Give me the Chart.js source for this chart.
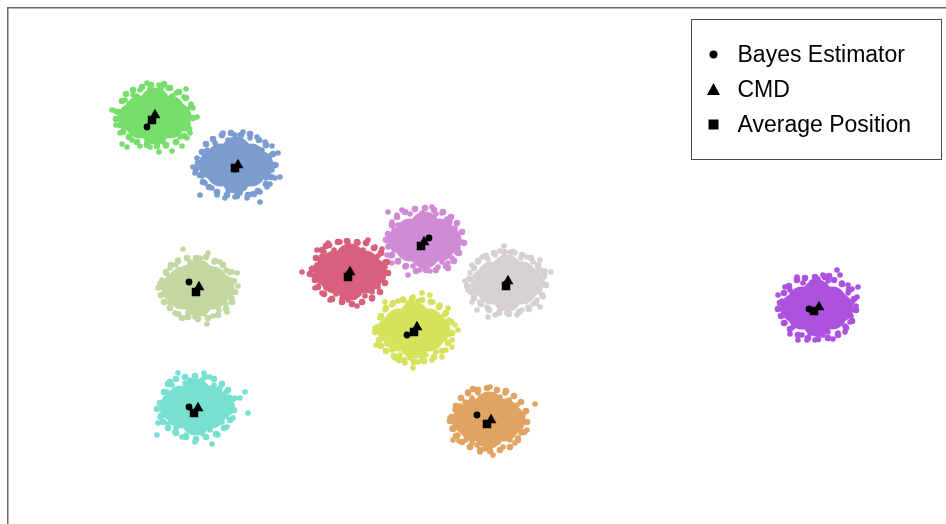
<!DOCTYPE html>
<html>
<head>
<meta charset="utf-8">
<script src="https://cdn.jsdelivr.net/npm/chart.js"></script>
<style>
  html, body { margin: 0; padding: 0; background: #ffffff; overflow: hidden; }
  #wrap { width: 946px; height: 524px; position: relative; }
</style>
</head>
<body>
<div id="wrap"><canvas id="c" width="946" height="524"></canvas></div>
<script>
// Posterior samples for ten sources in a 2-D embedding, with three position estimates per source.
// Each source: a dense "core" of overlapping samples, the "fringe" at its rim and the looser "spread" around it.

const greenCore = [[14.7,40.8],[13.2,41.4],[16.2,41.4],[13.2,40.0],[16.2,40.0],[14.7,42.2],[14.7,39.4],[12.5,40.7],[16.9,40.7]];
const greenFringe = [[11.0,41.2],[11.2,39.9],[11.4,42.3],[11.8,43.0],[12.5,43.4],[13.4,43.7],[14.3,43.9],[15.3,43.7],[16.2,43.6],[17.1,43.2],[17.8,42.6],[18.3,41.7],[18.5,40.6],[18.1,39.5],[17.6,38.8],[16.8,38.2],[15.8,37.9],[14.9,37.8],[13.9,37.9],[12.9,38.2],[12.1,38.7],[11.5,39.2],[10.8,40.5],[15.6,44.0]];
const greenSpread = [[13.9,44.1],[15.1,43.9],[16.0,43.6],[17.8,43.5],[13.2,43.4],[12.5,42.9],[11.7,42.4],[10.7,41.3],[10.4,41.4],[11.1,40.6],[10.8,39.9],[11.2,39.1],[11.4,38.0],[11.9,37.7],[12.4,38.4],[13.2,37.8],[14.2,37.7],[15.1,37.2],[15.8,37.8],[16.4,37.3],[16.8,38.2],[17.4,37.8],[17.2,38.7],[17.9,38.6],[18.2,39.1],[18.0,39.9],[18.2,40.6],[18.9,40.7],[18.5,41.6],[18.3,42.0],[17.6,42.7],[16.8,43.1],[14.2,43.5],[12.1,42.0],[11.6,39.6],[17.7,39.5],[15.5,38.2],[13.9,38.2],[12.9,42.8],[16.4,42.8]];

const blueCore = [[22.8,35.9],[21.3,36.6],[24.3,36.6],[21.3,35.2],[24.3,35.2],[22.8,37.3],[22.8,34.5],[20.5,35.9],[25.1,35.9]];
const blueFringe = [[19.0,36.1],[19.2,34.9],[19.4,37.2],[19.8,38.0],[20.5,38.5],[21.4,38.9],[22.3,39.1],[23.3,38.9],[24.2,39.0],[25.1,38.4],[25.8,37.9],[26.5,37.0],[26.7,35.9],[26.3,34.7],[25.8,34.0],[25.0,33.3],[24.0,32.9],[22.9,32.8],[21.9,32.9],[20.9,33.2],[20.1,33.7],[19.5,34.2],[18.8,35.5],[24.6,33.0]];
const blueSpread = [[19.2,32.9],[18.7,35.1],[18.5,35.7],[18.9,36.6],[19.9,37.4],[20.7,38.1],[21.5,39.1],[22.7,38.9],[23.5,39.2],[24.2,38.6],[24.9,38.7],[25.7,38.2],[26.4,37.8],[27.0,37.1],[26.2,36.8],[26.8,35.9],[26.4,35.4],[27.2,34.7],[26.7,34.6],[26.2,34.0],[25.9,33.7],[25.2,33.2],[25.2,32.2],[24.4,33.0],[23.9,32.6],[23.2,33.1],[22.7,32.7],[21.7,32.6],[22.0,33.3],[20.9,32.9],[20.4,33.6],[19.7,34.1],[19.4,34.8],[19.5,36.1],[19.8,36.9],[22.0,38.4],[25.4,37.4],[25.8,34.6],[20.0,35.2],[23.6,33.6]];

const sageCore = [[19.0,23.6],[17.5,24.3],[20.5,24.3],[17.5,22.9],[20.5,22.9],[19.0,25.0],[19.0,22.2],[16.8,23.6],[21.2,23.6]];
const sageFringe = [[15.4,24.1],[15.3,22.9],[15.8,25.2],[16.3,25.9],[17.0,26.3],[17.9,26.6],[18.8,26.6],[19.8,26.7],[20.7,26.3],[21.5,25.9],[22.2,25.2],[22.6,24.3],[22.7,23.2],[22.4,22.2],[21.8,21.5],[21.0,20.9],[20.0,20.6],[19.0,20.5],[18.0,20.7],[17.0,21.0],[16.2,21.6],[15.6,22.2],[15.1,23.7],[17.4,20.6]];
const sageSpread = [[17.5,27.5],[18.2,26.2],[19.2,26.6],[20.0,27.1],[20.6,26.2],[21.2,26.2],[21.8,25.4],[22.4,25.2],[22.9,25.1],[22.3,24.4],[23.0,23.8],[22.5,23.2],[22.4,22.6],[21.8,22.0],[21.9,21.2],[21.1,21.4],[20.5,20.8],[19.9,20.0],[19.6,21.0],[18.7,20.7],[18.0,21.1],[17.5,20.6],[16.7,21.1],[17.0,21.8],[16.2,22.1],[15.7,22.2],[15.8,22.9],[15.0,23.6],[15.5,23.8],[15.4,24.4],[15.9,25.0],[16.2,25.6],[16.8,25.9],[17.0,26.4],[17.7,25.6],[20.2,25.6],[21.8,22.8],[16.3,22.7],[18.8,21.4],[15.2,24.1]];

const roseCore = [[34.2,25.2],[32.7,25.9],[35.7,25.9],[32.7,24.5],[35.7,24.5],[34.2,26.6],[34.2,23.8],[32.0,25.2],[36.4,25.2]];
const roseFringe = [[30.4,25.5],[30.7,24.4],[30.8,26.6],[31.4,27.4],[32.1,27.9],[33.0,28.2],[33.9,28.3],[34.9,28.2],[35.8,28.1],[36.6,27.6],[37.3,27.1],[37.9,26.2],[38.0,25.1],[37.7,24.1],[37.2,23.2],[36.4,22.6],[35.4,22.2],[34.4,22.0],[33.4,22.2],[32.4,22.5],[31.6,23.0],[31.0,23.7],[30.2,25.0],[31.8,27.8]];
const roseSpread = [[29.4,25.2],[30.9,27.4],[31.4,26.8],[32.0,28.1],[32.6,27.4],[33.2,28.2],[34.0,28.2],[35.0,28.1],[35.5,27.4],[36.0,28.4],[36.7,27.7],[37.4,27.5],[37.0,26.8],[37.7,26.2],[37.7,25.7],[37.2,25.2],[37.5,24.6],[37.0,24.0],[37.0,23.7],[36.4,23.2],[36.4,22.5],[35.7,22.8],[34.9,21.8],[34.7,22.7],[34.0,22.4],[33.4,22.5],[32.8,23.0],[32.2,22.4],[31.4,23.1],[30.7,23.6],[31.2,24.2],[30.6,24.8],[30.9,25.9],[31.2,26.4],[30.5,25.6],[33.5,27.5],[36.2,26.7],[35.2,23.3],[31.8,23.6],[31.6,27.2]];

const orchidCore = [[41.7,28.4],[40.2,29.1],[43.2,29.1],[40.2,27.7],[43.2,27.7],[41.7,29.8],[41.7,27.0],[39.5,28.4],[43.9,28.4]];
const orchidFringe = [[38.0,29.0],[38.1,27.8],[38.4,29.9],[38.9,30.7],[39.7,31.2],[40.7,31.5],[41.7,31.6],[42.6,31.4],[43.5,31.2],[44.3,30.7],[44.9,30.1],[45.4,29.2],[45.6,28.1],[45.1,27.1],[44.6,26.3],[43.8,25.8],[42.8,25.4],[41.8,25.4],[40.8,25.3],[39.8,25.8],[39.0,26.3],[38.4,26.9],[37.8,28.4],[44.0,25.6]];
const orchidSpread = [[38.0,31.2],[38.9,30.9],[39.4,31.4],[40.2,31.0],[40.7,31.5],[41.4,31.1],[42.4,31.7],[42.8,31.0],[43.4,31.1],[43.9,30.5],[44.2,30.2],[44.7,29.6],[45.4,29.2],[44.8,28.7],[45.4,28.2],[45.0,27.6],[44.9,27.1],[44.4,26.6],[44.0,26.1],[43.4,26.2],[43.0,25.7],[42.2,25.3],[41.7,25.8],[41.2,25.4],[40.5,25.8],[40.0,24.9],[39.7,25.7],[39.0,26.2],[38.4,26.1],[38.3,26.8],[37.9,26.9],[38.6,27.4],[38.0,27.7],[38.4,28.2],[38.2,28.7],[38.6,29.4],[38.4,30.2],[39.0,29.9],[44.4,27.9],[40.9,26.2]];

const greyCore = [[49.9,24.1],[48.4,24.8],[51.4,24.8],[48.4,23.4],[51.4,23.4],[49.9,25.5],[49.9,22.7],[47.7,24.1],[52.1,24.1]];
const greyFringe = [[46.1,24.5],[46.3,23.2],[46.6,25.6],[47.0,26.3],[47.8,26.8],[48.6,27.1],[49.6,27.2],[50.5,27.2],[51.4,26.9],[52.3,26.6],[53.0,25.9],[53.6,25.0],[53.8,23.9],[53.4,22.9],[52.8,22.1],[52.1,21.5],[51.1,21.2],[50.1,21.0],[49.1,21.1],[48.1,21.4],[47.3,22.0],[46.6,22.6],[45.9,23.8],[53.2,25.4]];
const greySpread = [[45.7,24.3],[46.2,25.1],[46.4,25.9],[47.0,26.2],[47.4,26.7],[48.0,26.5],[48.7,26.9],[49.2,27.3],[49.6,27.8],[50.2,27.2],[50.7,27.1],[51.3,26.6],[51.9,26.7],[52.5,26.2],[53.2,26.4],[53.0,25.6],[53.7,25.3],[54.3,25.2],[53.6,24.7],[53.4,24.2],[53.2,23.5],[53.5,22.7],[52.9,22.4],[53.2,21.7],[52.5,22.0],[52.0,21.7],[51.4,21.4],[50.9,20.9],[50.4,21.6],[49.9,21.1],[49.2,21.5],[48.7,20.9],[48.0,20.7],[47.9,21.7],[46.9,21.4],[47.2,22.2],[46.4,22.2],[46.6,22.9],[46.0,23.4],[46.5,23.8]];

const limeCore = [[40.6,19.4],[39.1,20.1],[42.1,20.1],[39.1,18.7],[42.1,18.7],[40.6,20.8],[40.6,18.0],[38.4,19.4],[42.8,19.4]];
const limeFringe = [[37.0,19.7],[37.1,18.4],[37.3,20.8],[37.8,21.6],[38.5,22.1],[39.5,22.4],[40.4,22.5],[41.4,22.4],[42.3,22.2],[43.1,21.7],[43.8,21.1],[44.3,20.2],[44.4,19.1],[44.0,18.1],[43.4,17.3],[42.6,16.7],[41.6,16.3],[40.6,16.2],[39.6,16.4],[38.6,16.8],[37.8,17.3],[37.3,17.8],[36.7,19.2],[39.1,16.4]];
const limeSpread = [[36.7,19.6],[37.2,20.6],[37.7,21.4],[37.7,22.2],[38.4,21.9],[39.0,22.3],[39.5,22.5],[40.0,22.1],[40.5,22.7],[41.0,22.3],[41.4,23.1],[42.2,22.9],[42.5,22.2],[43.2,21.9],[44.0,21.6],[43.6,20.9],[44.1,20.4],[44.7,19.9],[45.0,19.4],[44.2,19.0],[44.4,18.4],[44.4,17.7],[43.8,17.4],[43.4,16.7],[42.8,17.2],[42.4,16.4],[41.8,16.9],[41.4,16.6],[41.0,16.2],[40.5,15.6],[40.2,16.6],[39.7,16.1],[39.2,16.9],[38.7,16.6],[38.4,17.4],[37.9,18.0],[37.5,18.8],[36.8,17.9],[37.4,20.0],[43.8,20.0]];

const violetCore = [[80.9,21.6],[79.4,22.3],[82.4,22.3],[79.4,20.9],[82.4,20.9],[80.9,23.0],[80.9,20.2],[78.7,21.6],[83.1,21.6]];
const violetFringe = [[77.2,22.1],[77.3,20.8],[77.6,23.1],[78.1,23.8],[78.9,24.4],[79.7,24.6],[80.7,24.7],[81.7,24.7],[82.6,24.4],[83.4,24.0],[84.1,23.4],[84.6,22.5],[84.8,21.4],[84.4,20.3],[83.8,19.6],[83.0,18.9],[82.0,18.6],[81.0,18.5],[80.0,18.6],[79.0,18.9],[78.2,19.5],[77.6,20.1],[77.0,21.5],[82.1,24.8]];
const violetSpread = [[77.0,22.9],[77.4,22.3],[77.7,23.7],[78.2,23.4],[78.9,24.7],[79.5,24.1],[80.4,24.2],[81.0,24.5],[81.5,24.9],[82.0,24.3],[82.9,25.4],[83.2,24.9],[83.4,24.1],[84.0,23.9],[84.4,23.5],[85.0,23.7],[84.9,22.7],[84.4,22.2],[84.8,21.8],[84.7,21.4],[84.3,20.8],[84.2,20.2],[83.7,19.8],[83.7,19.2],[83.0,19.1],[82.5,18.5],[82.0,19.2],[81.5,18.9],[80.7,18.4],[80.2,19.1],[79.9,18.4],[79.4,18.9],[79.0,18.4],[78.2,19.0],[78.5,19.7],[77.7,20.1],[78.0,20.8],[77.6,21.3],[77.7,21.9],[84.0,23.1]];

const tealCore = [[18.8,11.7],[17.3,12.4],[20.3,12.4],[17.3,11.0],[20.3,11.0],[18.8,13.1],[18.8,10.3],[16.6,11.7],[21.0,11.7]];
const tealFringe = [[15.2,12.1],[15.3,10.8],[15.6,13.2],[16.0,14.0],[16.8,14.5],[17.7,14.7],[18.7,14.8],[19.7,14.7],[20.6,14.5],[21.4,14.0],[22.0,13.4],[22.5,12.5],[22.6,11.4],[22.2,10.4],[21.6,9.6],[20.8,9.0],[19.8,8.7],[18.8,8.5],[17.8,8.7],[16.8,9.1],[16.0,9.6],[15.5,10.2],[14.9,11.5],[16.2,14.2]];
const tealSpread = [[17.0,15.1],[17.7,14.1],[16.4,13.9],[15.9,13.2],[18.2,14.4],[18.9,14.0],[19.4,14.4],[19.6,15.1],[20.2,14.7],[20.6,13.9],[21.2,13.6],[21.8,13.2],[22.1,12.7],[22.7,12.6],[23.2,12.6],[23.7,13.2],[22.4,11.9],[24.0,11.1],[22.2,11.2],[22.5,10.6],[21.9,9.7],[21.4,10.2],[21.0,8.9],[20.4,8.0],[20.2,9.4],[19.5,9.0],[18.7,8.2],[18.4,9.2],[17.8,8.9],[17.4,8.7],[16.8,9.6],[16.7,9.2],[16.0,10.0],[14.9,8.9],[15.0,10.1],[15.2,10.7],[15.7,11.2],[15.5,11.9],[15.8,12.6],[16.4,11.0]];

const amberCore = [[48.1,10.4],[46.6,11.1],[49.6,11.1],[46.6,9.7],[49.6,9.7],[48.1,11.8],[48.1,9.0],[45.9,10.4],[50.3,10.4]];
const amberFringe = [[44.4,10.7],[44.5,9.5],[44.8,11.8],[45.3,12.6],[46.0,13.1],[47.0,13.4],[47.9,13.6],[48.9,13.4],[49.8,13.3],[50.6,12.8],[51.3,12.2],[51.8,11.3],[51.9,10.2],[51.6,9.2],[51.0,8.4],[50.2,7.7],[49.2,7.4],[48.2,7.3],[47.2,7.4],[46.2,7.7],[45.4,8.2],[44.8,8.8],[44.2,10.3],[46.5,13.5]];
const amberSpread = [[46.0,13.2],[46.4,12.6],[47.0,13.1],[47.6,12.7],[48.2,13.7],[48.5,12.9],[49.2,12.7],[49.7,13.1],[50.1,12.4],[50.9,11.9],[50.6,11.4],[52.7,12.0],[51.5,10.9],[51.2,10.4],[51.9,9.4],[51.3,9.1],[51.0,8.6],[50.7,8.1],[50.2,8.4],[49.5,7.7],[49.0,8.2],[48.5,6.9],[48.2,7.7],[47.7,7.5],[47.2,7.2],[46.9,7.9],[46.4,8.1],[45.8,8.4],[45.1,8.3],[44.5,8.4],[45.0,8.9],[44.4,9.6],[44.7,10.0],[44.2,10.6],[44.7,11.4],[45.2,11.8],[45.7,12.2],[45.2,10.9],[47.4,8.3],[50.4,9.6]];

// Position estimates, one per source (same order in each list)
const bayesEstimator = [[13.9,39.7],[22.7,35.5],[18.1,24.2],[34.1,25.0],[42.1,28.6],[49.8,24.0],[39.9,18.9],[80.1,21.5],[18.1,11.7],[46.9,10.9]];
const cmdEstimate    = [[14.7,40.9],[23.0,35.9],[19.1,23.7],[34.2,25.2],[41.6,28.2],[50.0,24.3],[40.9,19.7],[81.1,21.7],[19.0,11.6],[48.3,10.4]];
const averagePosition= [[14.4,40.4],[22.7,35.6],[18.8,23.2],[34.0,24.7],[41.3,27.8],[49.8,23.8],[40.6,19.2],[80.6,21.3],[18.6,11.1],[47.9,10.0]];

const estimatorLabels = ['Bayes Estimator', 'CMD', 'Average Position'];

const sources = [
  { core: greenCore,  fringe: greenFringe,  spread: greenSpread,  color: '#77de6c' },
  { core: blueCore,   fringe: blueFringe,   spread: blueSpread,   color: '#7b9ccf' },
  { core: sageCore,   fringe: sageFringe,   spread: sageSpread,   color: '#c3d8a0' },
  { core: roseCore,   fringe: roseFringe,   spread: roseSpread,   color: '#d8607c' },
  { core: orchidCore, fringe: orchidFringe, spread: orchidSpread, color: '#d08bd6' },
  { core: greyCore,   fringe: greyFringe,   spread: greySpread,   color: '#d5d0d1' },
  { core: limeCore,   fringe: limeFringe,   spread: limeSpread,   color: '#d5e35b' },
  { core: violetCore, fringe: violetFringe, spread: violetSpread, color: '#ac51e0' },
  { core: tealCore,   fringe: tealFringe,   spread: tealSpread,   color: '#77e0d1' },
  { core: amberCore,  fringe: amberFringe,  spread: amberSpread,  color: '#e1a362' }
];

const toXY = arr => arr.map(p => ({ x: p[0], y: p[1] }));

// Estimate markers first so they are painted on top of the sample clouds
const datasets = [
  { label: estimatorLabels[1], data: toXY(cmdEstimate), pointStyle: 'triangle', pointRadius: 6.3,
    backgroundColor: '#000', borderColor: '#000', borderWidth: 0 },
  { label: estimatorLabels[2], data: toXY(averagePosition), pointStyle: 'rect', pointRadius: 6,
    backgroundColor: '#000', borderColor: '#000', borderWidth: 0 },
  { label: estimatorLabels[0], data: toXY(bayesEstimator), pointStyle: 'circle', pointRadius: 3.4,
    backgroundColor: '#000', borderColor: '#000', borderWidth: 0 }
];
sources.forEach(s => {
  datasets.push({ label: '', data: toXY(s.spread), pointStyle: 'circle', pointRadius: 2.8,
    backgroundColor: s.color, borderWidth: 0 });
  datasets.push({ label: '', data: toXY(s.fringe), pointStyle: 'circle', pointRadius: 3.3,
    backgroundColor: s.color, borderWidth: 0 });
  datasets.push({ label: '', data: toXY(s.core), pointStyle: 'circle', pointRadius: 14.5,
    backgroundColor: s.color, borderWidth: 0 });
});

// Boxed legend in the upper right corner of the plot
const boxedLegend = {
  id: 'boxedLegend',
  afterDraw(chart) {
    const { ctx, chartArea } = chart;
    const w = 250, h = 140;
    const left = Math.round(chartArea.right - w - 5) + 0.5;
    const top = Math.round(chartArea.top + 11) + 0.5;
    ctx.save();
    ctx.fillStyle = '#ffffff';
    ctx.fillRect(left, top, w, h);
    ctx.strokeStyle = '#4a4a4a';
    ctx.lineWidth = 1;
    ctx.strokeRect(left, top, w, h);
    const entries = [
      { label: estimatorLabels[0], style: 'circle' },
      { label: estimatorLabels[1], style: 'triangle' },
      { label: estimatorLabels[2], style: 'rect' }
    ];
    ctx.font = '23px "Liberation Sans", Arial, sans-serif';
    ctx.textBaseline = 'middle';
    ctx.fillStyle = '#000';
    entries.forEach((e, i) => {
      const cy = top + 35 + i * 35;
      const cx = left + 22;
      ctx.beginPath();
      if (e.style === 'circle') {
        ctx.arc(cx, cy, 4, 0, Math.PI * 2);
      } else if (e.style === 'triangle') {
        ctx.moveTo(cx, cy - 6.5);
        ctx.lineTo(cx + 6.5, cy + 5.5);
        ctx.lineTo(cx - 6.5, cy + 5.5);
        ctx.closePath();
      } else {
        ctx.rect(cx - 5, cy - 5, 10, 10);
      }
      ctx.fill();
      ctx.fillText(e.label, left + 46, cy + 1);
    });
    ctx.restore();
  }
};

new Chart(document.getElementById('c'), {
  type: 'scatter',
  data: { datasets },
  options: {
    responsive: false,
    animation: false,
    events: [],
    layout: { autoPadding: false, padding: { left: 8, top: 8, right: 0, bottom: 0 } },
    plugins: { legend: { display: false }, tooltip: { enabled: false } },
    scales: {
      x: {
        type: 'linear', position: 'top', min: 0, max: 93.8,
        grid: { display: false, drawTicks: false },
        ticks: { display: false },
        border: { display: true, color: '#6b6b6b', width: 1.5 }
      },
      y: {
        type: 'linear', position: 'left', min: 0, max: 51.6,
        grid: { display: false, drawTicks: false },
        ticks: { display: false },
        border: { display: true, color: '#6b6b6b', width: 1.5 }
      }
    }
  },
  plugins: [boxedLegend]
});
</script>
</body>
</html>
